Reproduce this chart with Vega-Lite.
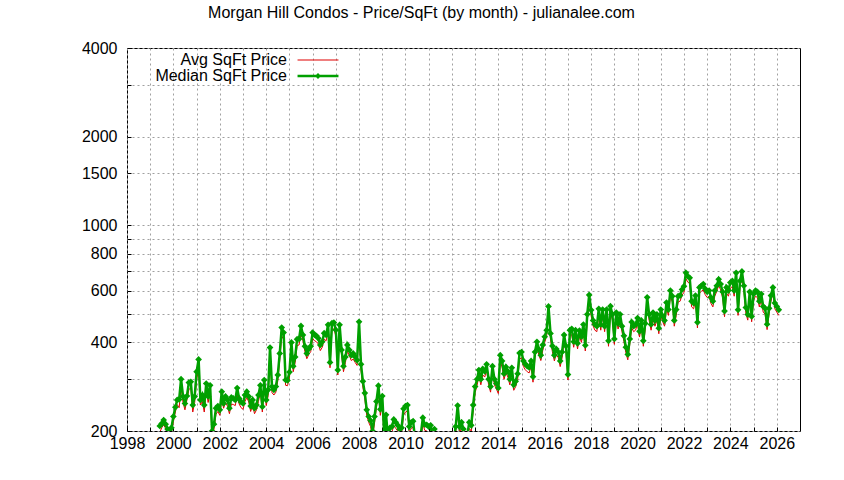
{
  "$schema": "https://vega.github.io/schema/vega-lite/v6.json",
  "width": 673,
  "height": 383,
  "autosize": {"type": "none"},
  "padding": {"left": 127, "top": 48, "right": 44, "bottom": 49},
  "background": "white",
  "config": {
    "font": "Liberation Sans",
    "view": {"stroke": "black", "strokeWidth": 1},
    "axis": {
      "domain": false,
      "ticks": true,
      "tickSize": -4,
      "tickColor": "black",
      "tickWidth": 1,
      "grid": true,
      "gridColor": "#a0a0a0",
      "gridDash": [2, 3],
      "gridWidth": 1,
      "labelFont": "Liberation Sans",
      "labelFontSize": 16,
      "labelColor": "black",
      "labelOverlap": false,
      "labelFlush": false,
      "title": null
    }
  },
  "title": {
    "text": "Morgan Hill Condos - Price/SqFt (by month) - julianalee.com",
    "font": "Liberation Sans",
    "fontSize": 16,
    "fontWeight": "normal",
    "color": "black",
    "anchor": "middle",
    "frame": "group",
    "baseline": "alphabetic",
    "dx": -42,
    "offset": 6
  },
  "data": {
    "format": {"parse": {"date": "date:'%Y-%m'"}},
    "values": [
      {"date": "1999-06", "avg": 198, "median": 208},
      {"date": "1999-07", "avg": 205, "median": 212},
      {"date": "1999-08", "avg": 210, "median": 218},
      {"date": "1999-09", "avg": 204, "median": 211},
      {"date": "1999-10", "avg": 196, "median": 203},
      {"date": "1999-11", "avg": 192, "median": 200},
      {"date": "1999-12", "avg": 198, "median": 205},
      {"date": "2000-01", "avg": 215, "median": 224},
      {"date": "2000-02", "avg": 232, "median": 241},
      {"date": "2000-03", "avg": 246, "median": 255},
      {"date": "2000-04", "avg": 240, "median": 256},
      {"date": "2000-05", "avg": 282, "median": 300},
      {"date": "2000-06", "avg": 250, "median": 262},
      {"date": "2000-07", "avg": 236, "median": 248},
      {"date": "2000-08", "avg": 255, "median": 263},
      {"date": "2000-09", "avg": 276, "median": 292},
      {"date": "2000-10", "avg": 281, "median": 294},
      {"date": "2000-11", "avg": 232, "median": 245},
      {"date": "2000-12", "avg": 250, "median": 262},
      {"date": "2001-01", "avg": 300, "median": 318},
      {"date": "2001-02", "avg": 322, "median": 350},
      {"date": "2001-03", "avg": 245, "median": 255},
      {"date": "2001-04", "avg": 252, "median": 265},
      {"date": "2001-05", "avg": 232, "median": 245},
      {"date": "2001-06", "avg": 276, "median": 290},
      {"date": "2001-07", "avg": 250, "median": 262},
      {"date": "2001-08", "avg": 271, "median": 286},
      {"date": "2001-09", "avg": 191, "median": 200},
      {"date": "2001-10", "avg": 203, "median": 211},
      {"date": "2001-11", "avg": 228, "median": 239},
      {"date": "2001-12", "avg": 233, "median": 243},
      {"date": "2002-01", "avg": 226, "median": 236},
      {"date": "2002-02", "avg": 258, "median": 272},
      {"date": "2002-03", "avg": 239, "median": 248},
      {"date": "2002-04", "avg": 250, "median": 262},
      {"date": "2002-05", "avg": 243, "median": 255},
      {"date": "2002-06", "avg": 229, "median": 239},
      {"date": "2002-07", "avg": 247, "median": 260},
      {"date": "2002-08", "avg": 246, "median": 258},
      {"date": "2002-09", "avg": 244, "median": 255},
      {"date": "2002-10", "avg": 266, "median": 280},
      {"date": "2002-11", "avg": 247, "median": 258},
      {"date": "2002-12", "avg": 240, "median": 251},
      {"date": "2003-01", "avg": 237, "median": 248},
      {"date": "2003-02", "avg": 252, "median": 265},
      {"date": "2003-03", "avg": 260, "median": 272},
      {"date": "2003-04", "avg": 251, "median": 262},
      {"date": "2003-05", "avg": 233, "median": 243},
      {"date": "2003-06", "avg": 244, "median": 255},
      {"date": "2003-07", "avg": 229, "median": 239},
      {"date": "2003-08", "avg": 236, "median": 245},
      {"date": "2003-09", "avg": 252, "median": 265},
      {"date": "2003-10", "avg": 272, "median": 286},
      {"date": "2003-11", "avg": 232, "median": 242},
      {"date": "2003-12", "avg": 283, "median": 298},
      {"date": "2004-01", "avg": 244, "median": 255},
      {"date": "2004-02", "avg": 264, "median": 276},
      {"date": "2004-03", "avg": 360, "median": 384},
      {"date": "2004-04", "avg": 270, "median": 283},
      {"date": "2004-05", "avg": 265, "median": 276},
      {"date": "2004-06", "avg": 271, "median": 283},
      {"date": "2004-07", "avg": 296, "median": 310},
      {"date": "2004-08", "avg": 348, "median": 367},
      {"date": "2004-09", "avg": 420, "median": 449},
      {"date": "2004-10", "avg": 410, "median": 432},
      {"date": "2004-11", "avg": 286, "median": 298},
      {"date": "2004-12", "avg": 285, "median": 297},
      {"date": "2005-01", "avg": 303, "median": 317},
      {"date": "2005-02", "avg": 380, "median": 400},
      {"date": "2005-03", "avg": 318, "median": 332},
      {"date": "2005-04", "avg": 342, "median": 357},
      {"date": "2005-05", "avg": 390, "median": 410},
      {"date": "2005-06", "avg": 392, "median": 411},
      {"date": "2005-07", "avg": 430, "median": 455},
      {"date": "2005-08", "avg": 405, "median": 424},
      {"date": "2005-09", "avg": 372, "median": 388},
      {"date": "2005-10", "avg": 352, "median": 367},
      {"date": "2005-11", "avg": 364, "median": 380},
      {"date": "2005-12", "avg": 372, "median": 388},
      {"date": "2006-01", "avg": 412, "median": 432},
      {"date": "2006-02", "avg": 405, "median": 424},
      {"date": "2006-03", "avg": 402, "median": 421},
      {"date": "2006-04", "avg": 395, "median": 413},
      {"date": "2006-05", "avg": 375, "median": 392},
      {"date": "2006-06", "avg": 385, "median": 402},
      {"date": "2006-07", "avg": 410, "median": 430},
      {"date": "2006-08", "avg": 405, "median": 424},
      {"date": "2006-09", "avg": 436, "median": 459},
      {"date": "2006-10", "avg": 328, "median": 342},
      {"date": "2006-11", "avg": 440, "median": 465},
      {"date": "2006-12", "avg": 445, "median": 467},
      {"date": "2007-01", "avg": 420, "median": 441},
      {"date": "2007-02", "avg": 310, "median": 322},
      {"date": "2007-03", "avg": 435, "median": 459},
      {"date": "2007-04", "avg": 362, "median": 377},
      {"date": "2007-05", "avg": 318, "median": 332},
      {"date": "2007-06", "avg": 342, "median": 357},
      {"date": "2007-07", "avg": 374, "median": 392},
      {"date": "2007-08", "avg": 361, "median": 377},
      {"date": "2007-09", "avg": 347, "median": 362},
      {"date": "2007-10", "avg": 351, "median": 367},
      {"date": "2007-11", "avg": 342, "median": 357},
      {"date": "2007-12", "avg": 334, "median": 348},
      {"date": "2008-01", "avg": 445, "median": 470},
      {"date": "2008-02", "avg": 322, "median": 337},
      {"date": "2008-03", "avg": 282, "median": 295},
      {"date": "2008-04", "avg": 257, "median": 269},
      {"date": "2008-05", "avg": 226, "median": 236},
      {"date": "2008-06", "avg": 214, "median": 224},
      {"date": "2008-07", "avg": 207, "median": 217},
      {"date": "2008-08", "avg": 190, "median": 200},
      {"date": "2008-09", "avg": 213, "median": 224},
      {"date": "2008-10", "avg": 240, "median": 252},
      {"date": "2008-11", "avg": 271, "median": 285},
      {"date": "2008-12", "avg": 226, "median": 237},
      {"date": "2009-01", "avg": 250, "median": 263},
      {"date": "2009-02", "avg": 184, "median": 192},
      {"date": "2009-03", "avg": 216, "median": 227},
      {"date": "2009-04", "avg": 181, "median": 190},
      {"date": "2009-05", "avg": 196, "median": 205},
      {"date": "2009-06", "avg": 198, "median": 207},
      {"date": "2009-07", "avg": 209, "median": 219},
      {"date": "2009-08", "avg": 204, "median": 214},
      {"date": "2009-09", "avg": 200, "median": 209},
      {"date": "2009-10", "avg": 194, "median": 203},
      {"date": "2009-11", "avg": 196, "median": 205},
      {"date": "2009-12", "avg": 226, "median": 238},
      {"date": "2010-01", "avg": 232, "median": 243},
      {"date": "2010-02", "avg": 234, "median": 245},
      {"date": "2010-03", "avg": 198, "median": 207},
      {"date": "2010-04", "avg": 204, "median": 214},
      {"date": "2010-05", "avg": 206, "median": 216},
      {"date": "2010-06", "avg": 180, "median": 188},
      {"date": "2010-07", "avg": 168, "median": 175},
      {"date": "2010-08", "avg": 174, "median": 182},
      {"date": "2010-09", "avg": 187, "median": 196},
      {"date": "2010-10", "avg": 211, "median": 222},
      {"date": "2010-11", "avg": 201, "median": 210},
      {"date": "2010-12", "avg": 200, "median": 210},
      {"date": "2011-01", "avg": 198, "median": 207},
      {"date": "2011-02", "avg": 200, "median": 209},
      {"date": "2011-03", "avg": 182, "median": 190},
      {"date": "2011-04", "avg": 194, "median": 203},
      {"date": "2011-05", "avg": 180, "median": 188},
      {"date": "2011-06", "avg": 172, "median": 180},
      {"date": "2011-07", "avg": 165, "median": 172},
      {"date": "2011-08", "avg": 170, "median": 178},
      {"date": "2011-09", "avg": 177, "median": 185},
      {"date": "2011-10", "avg": 168, "median": 176},
      {"date": "2011-11", "avg": 174, "median": 182},
      {"date": "2011-12", "avg": 163, "median": 170},
      {"date": "2012-01", "avg": 170, "median": 178},
      {"date": "2012-02", "avg": 177, "median": 185},
      {"date": "2012-03", "avg": 198, "median": 207},
      {"date": "2012-04", "avg": 232, "median": 244},
      {"date": "2012-05", "avg": 198, "median": 207},
      {"date": "2012-06", "avg": 205, "median": 214},
      {"date": "2012-07", "avg": 194, "median": 203},
      {"date": "2012-08", "avg": 182, "median": 190},
      {"date": "2012-09", "avg": 186, "median": 195},
      {"date": "2012-10", "avg": 204, "median": 214},
      {"date": "2012-11", "avg": 200, "median": 209},
      {"date": "2012-12", "avg": 234, "median": 245},
      {"date": "2013-01", "avg": 270, "median": 283},
      {"date": "2013-02", "avg": 286, "median": 300},
      {"date": "2013-03", "avg": 308, "median": 322},
      {"date": "2013-04", "avg": 287, "median": 300},
      {"date": "2013-05", "avg": 310, "median": 325},
      {"date": "2013-06", "avg": 305, "median": 319},
      {"date": "2013-07", "avg": 322, "median": 337},
      {"date": "2013-08", "avg": 287, "median": 300},
      {"date": "2013-09", "avg": 271, "median": 283},
      {"date": "2013-10", "avg": 316, "median": 332},
      {"date": "2013-11", "avg": 287, "median": 300},
      {"date": "2013-12", "avg": 278, "median": 290},
      {"date": "2014-01", "avg": 268, "median": 280},
      {"date": "2014-02", "avg": 345, "median": 362},
      {"date": "2014-03", "avg": 330, "median": 346},
      {"date": "2014-04", "avg": 300, "median": 313},
      {"date": "2014-05", "avg": 315, "median": 330},
      {"date": "2014-06", "avg": 305, "median": 319},
      {"date": "2014-07", "avg": 287, "median": 300},
      {"date": "2014-08", "avg": 313, "median": 328},
      {"date": "2014-09", "avg": 275, "median": 287},
      {"date": "2014-10", "avg": 283, "median": 295},
      {"date": "2014-11", "avg": 299, "median": 313},
      {"date": "2014-12", "avg": 350, "median": 368},
      {"date": "2015-01", "avg": 355, "median": 371},
      {"date": "2015-02", "avg": 331, "median": 346},
      {"date": "2015-03", "avg": 323, "median": 338},
      {"date": "2015-04", "avg": 318, "median": 332},
      {"date": "2015-05", "avg": 315, "median": 329},
      {"date": "2015-06", "avg": 331, "median": 346},
      {"date": "2015-07", "avg": 293, "median": 306},
      {"date": "2015-08", "avg": 355, "median": 371},
      {"date": "2015-09", "avg": 384, "median": 402},
      {"date": "2015-10", "avg": 363, "median": 379},
      {"date": "2015-11", "avg": 347, "median": 362},
      {"date": "2015-12", "avg": 375, "median": 392},
      {"date": "2016-01", "avg": 400, "median": 418},
      {"date": "2016-02", "avg": 421, "median": 440},
      {"date": "2016-03", "avg": 505, "median": 530},
      {"date": "2016-04", "avg": 410, "median": 429},
      {"date": "2016-05", "avg": 372, "median": 389},
      {"date": "2016-06", "avg": 346, "median": 362},
      {"date": "2016-07", "avg": 364, "median": 380},
      {"date": "2016-08", "avg": 355, "median": 371},
      {"date": "2016-09", "avg": 331, "median": 346},
      {"date": "2016-10", "avg": 355, "median": 371},
      {"date": "2016-11", "avg": 405, "median": 424},
      {"date": "2016-12", "avg": 372, "median": 389},
      {"date": "2017-01", "avg": 298, "median": 311},
      {"date": "2017-02", "avg": 420, "median": 440},
      {"date": "2017-03", "avg": 425, "median": 445},
      {"date": "2017-04", "avg": 385, "median": 402},
      {"date": "2017-05", "avg": 421, "median": 440},
      {"date": "2017-06", "avg": 380, "median": 397},
      {"date": "2017-07", "avg": 420, "median": 439},
      {"date": "2017-08", "avg": 400, "median": 418},
      {"date": "2017-09", "avg": 440, "median": 460},
      {"date": "2017-10", "avg": 374, "median": 391},
      {"date": "2017-11", "avg": 476, "median": 498},
      {"date": "2017-12", "avg": 552, "median": 580},
      {"date": "2018-01", "avg": 492, "median": 515},
      {"date": "2018-02", "avg": 455, "median": 475},
      {"date": "2018-03", "avg": 440, "median": 460},
      {"date": "2018-04", "avg": 435, "median": 454},
      {"date": "2018-05", "avg": 497, "median": 520},
      {"date": "2018-06", "avg": 440, "median": 460},
      {"date": "2018-07", "avg": 494, "median": 517},
      {"date": "2018-08", "avg": 435, "median": 454},
      {"date": "2018-09", "avg": 494, "median": 517},
      {"date": "2018-10", "avg": 388, "median": 405},
      {"date": "2018-11", "avg": 507, "median": 531},
      {"date": "2018-12", "avg": 476, "median": 498},
      {"date": "2019-01", "avg": 394, "median": 411},
      {"date": "2019-02", "avg": 482, "median": 505},
      {"date": "2019-03", "avg": 444, "median": 464},
      {"date": "2019-04", "avg": 476, "median": 498},
      {"date": "2019-05", "avg": 435, "median": 454},
      {"date": "2019-06", "avg": 403, "median": 421},
      {"date": "2019-07", "avg": 369, "median": 385},
      {"date": "2019-08", "avg": 349, "median": 364},
      {"date": "2019-09", "avg": 394, "median": 411},
      {"date": "2019-10", "avg": 448, "median": 469},
      {"date": "2019-11", "avg": 435, "median": 454},
      {"date": "2019-12", "avg": 440, "median": 460},
      {"date": "2020-01", "avg": 463, "median": 484},
      {"date": "2020-02", "avg": 417, "median": 436},
      {"date": "2020-03", "avg": 454, "median": 475},
      {"date": "2020-04", "avg": 388, "median": 405},
      {"date": "2020-05", "avg": 444, "median": 464},
      {"date": "2020-06", "avg": 543, "median": 569},
      {"date": "2020-07", "avg": 476, "median": 498},
      {"date": "2020-08", "avg": 440, "median": 460},
      {"date": "2020-09", "avg": 483, "median": 505},
      {"date": "2020-10", "avg": 454, "median": 475},
      {"date": "2020-11", "avg": 476, "median": 498},
      {"date": "2020-12", "avg": 428, "median": 447},
      {"date": "2021-01", "avg": 494, "median": 517},
      {"date": "2021-02", "avg": 470, "median": 491},
      {"date": "2021-03", "avg": 454, "median": 475},
      {"date": "2021-04", "avg": 522, "median": 546},
      {"date": "2021-05", "avg": 494, "median": 517},
      {"date": "2021-06", "avg": 573, "median": 600},
      {"date": "2021-07", "avg": 549, "median": 574},
      {"date": "2021-08", "avg": 454, "median": 475},
      {"date": "2021-09", "avg": 494, "median": 517},
      {"date": "2021-10", "avg": 549, "median": 574},
      {"date": "2021-11", "avg": 552, "median": 577},
      {"date": "2021-12", "avg": 578, "median": 605},
      {"date": "2022-01", "avg": 592, "median": 620},
      {"date": "2022-02", "avg": 658, "median": 689},
      {"date": "2022-03", "avg": 641, "median": 671},
      {"date": "2022-04", "avg": 634, "median": 663},
      {"date": "2022-05", "avg": 528, "median": 552},
      {"date": "2022-06", "avg": 520, "median": 544},
      {"date": "2022-07", "avg": 552, "median": 577},
      {"date": "2022-08", "avg": 448, "median": 468},
      {"date": "2022-09", "avg": 588, "median": 615},
      {"date": "2022-10", "avg": 596, "median": 623},
      {"date": "2022-11", "avg": 603, "median": 631},
      {"date": "2022-12", "avg": 581, "median": 608},
      {"date": "2023-01", "avg": 568, "median": 594},
      {"date": "2023-02", "avg": 574, "median": 600},
      {"date": "2023-03", "avg": 543, "median": 568},
      {"date": "2023-04", "avg": 528, "median": 552},
      {"date": "2023-05", "avg": 574, "median": 600},
      {"date": "2023-06", "avg": 596, "median": 623},
      {"date": "2023-07", "avg": 626, "median": 655},
      {"date": "2023-08", "avg": 603, "median": 631},
      {"date": "2023-09", "avg": 568, "median": 594},
      {"date": "2023-10", "avg": 489, "median": 511},
      {"date": "2023-11", "avg": 588, "median": 615},
      {"date": "2023-12", "avg": 574, "median": 600},
      {"date": "2024-01", "avg": 611, "median": 639},
      {"date": "2024-02", "avg": 619, "median": 647},
      {"date": "2024-03", "avg": 574, "median": 600},
      {"date": "2024-04", "avg": 659, "median": 689},
      {"date": "2024-05", "avg": 494, "median": 516},
      {"date": "2024-06", "avg": 619, "median": 647},
      {"date": "2024-07", "avg": 666, "median": 697},
      {"date": "2024-08", "avg": 596, "median": 623},
      {"date": "2024-09", "avg": 502, "median": 525},
      {"date": "2024-10", "avg": 476, "median": 497},
      {"date": "2024-11", "avg": 568, "median": 594},
      {"date": "2024-12", "avg": 470, "median": 490},
      {"date": "2025-01", "avg": 558, "median": 584},
      {"date": "2025-02", "avg": 574, "median": 600},
      {"date": "2025-03", "avg": 568, "median": 594},
      {"date": "2025-04", "avg": 528, "median": 552},
      {"date": "2025-05", "avg": 558, "median": 584},
      {"date": "2025-06", "avg": 507, "median": 530},
      {"date": "2025-07", "avg": 499, "median": 522},
      {"date": "2025-08", "avg": 442, "median": 461},
      {"date": "2025-09", "avg": 499, "median": 522},
      {"date": "2025-10", "avg": 552, "median": 577},
      {"date": "2025-11", "avg": 588, "median": 615},
      {"date": "2025-12", "avg": 520, "median": 544},
      {"date": "2026-01", "avg": 507, "median": 530},
      {"date": "2026-02", "avg": 494, "median": 516}
    ]
  },
  "transform": [{"fold": ["avg", "median"], "as": ["key", "value"]}],
  "encoding": {
    "x": {
      "field": "date",
      "type": "temporal",
      "scale": {"domain": [{"year": 1998, "month": 1, "date": 1}, {"year": 2027, "month": 1, "date": 1}]},
      "axis": {
        "values": [
          {"year": 1998}, {"year": 1999}, {"year": 2000}, {"year": 2001}, {"year": 2002},
          {"year": 2003}, {"year": 2004}, {"year": 2005}, {"year": 2006}, {"year": 2007},
          {"year": 2008}, {"year": 2009}, {"year": 2010}, {"year": 2011}, {"year": 2012},
          {"year": 2013}, {"year": 2014}, {"year": 2015}, {"year": 2016}, {"year": 2017},
          {"year": 2018}, {"year": 2019}, {"year": 2020}, {"year": 2021}, {"year": 2022},
          {"year": 2023}, {"year": 2024}, {"year": 2025}, {"year": 2026}
        ],
        "labelExpr": "year(datum.value) % 2 == 0 ? timeFormat(datum.value, '%Y') : ''",
        "labelPadding": 8
      }
    },
    "y": {
      "field": "value",
      "type": "quantitative",
      "scale": {"type": "log", "domain": [200, 4000]},
      "axis": {
        "values": [200, 300, 400, 500, 600, 700, 800, 900, 1000, 1500, 2000, 3000, 4000],
        "labelExpr": "indexof([300, 500, 700, 900, 3000], datum.value) >= 0 ? '' : format(datum.value, 'd')",
        "labelPadding": 14
      }
    }
  },
  "layer": [
    {
      "transform": [{"filter": "datum.key == 'avg'"}],
      "mark": {"type": "line", "clip": true, "strokeWidth": 1, "color": "#e00000"}
    },
    {
      "transform": [{"filter": "datum.key == 'median'"}],
      "mark": {"type": "line", "clip": true, "strokeWidth": 2.5, "color": "#00a000"}
    },
    {
      "transform": [{"filter": "datum.key == 'median'"}],
      "mark": {"type": "point", "clip": true, "shape": "diamond", "filled": true, "size": 45, "color": "#00a000", "opacity": 1}
    },
    {
      "transform": [{"filter": "datum.key == 'none'"}],
      "mark": {"type": "point", "filled": true, "size": 67, "opacity": 1},
      "encoding": {
        "fill": {
          "field": "key",
          "type": "nominal",
          "scale": {"domain": ["avg", "median"], "range": ["#e00000", "#00a000"]},
          "legend": {
            "title": null,
            "orient": "none",
            "legendX": 183,
            "legendY": 4,
            "labelAlign": "right",
            "labelOffset": -39,
            "labelFont": "Liberation Sans",
            "labelFontSize": 16,
            "labelColor": "black",
            "rowPadding": -1,
            "symbolSize": 67,
            "symbolStrokeWidth": 0,
            "symbolOpacity": 1,
            "labelExpr": "datum.value == 'avg' ? 'Avg SqFt Price' : 'Median SqFt Price'"
          }
        },
        "shape": {
          "field": "key",
          "type": "nominal",
          "scale": {
            "domain": ["avg", "median"],
            "range": ["M-5,-0.12H5V0.12H-5Z", "M-5,-0.3H5V0.3H-5ZM0,-0.75L0.75,0L0,0.75L-0.75,0Z"]
          },
          "legend": {
            "title": null,
            "orient": "none",
            "legendX": 183,
            "legendY": 4,
            "labelAlign": "right",
            "labelOffset": -39,
            "labelFont": "Liberation Sans",
            "labelFontSize": 16,
            "labelColor": "black",
            "rowPadding": -1,
            "symbolSize": 67,
            "symbolStrokeWidth": 0,
            "symbolOpacity": 1,
            "labelExpr": "datum.value == 'avg' ? 'Avg SqFt Price' : 'Median SqFt Price'"
          }
        }
      }
    }
  ]
}
